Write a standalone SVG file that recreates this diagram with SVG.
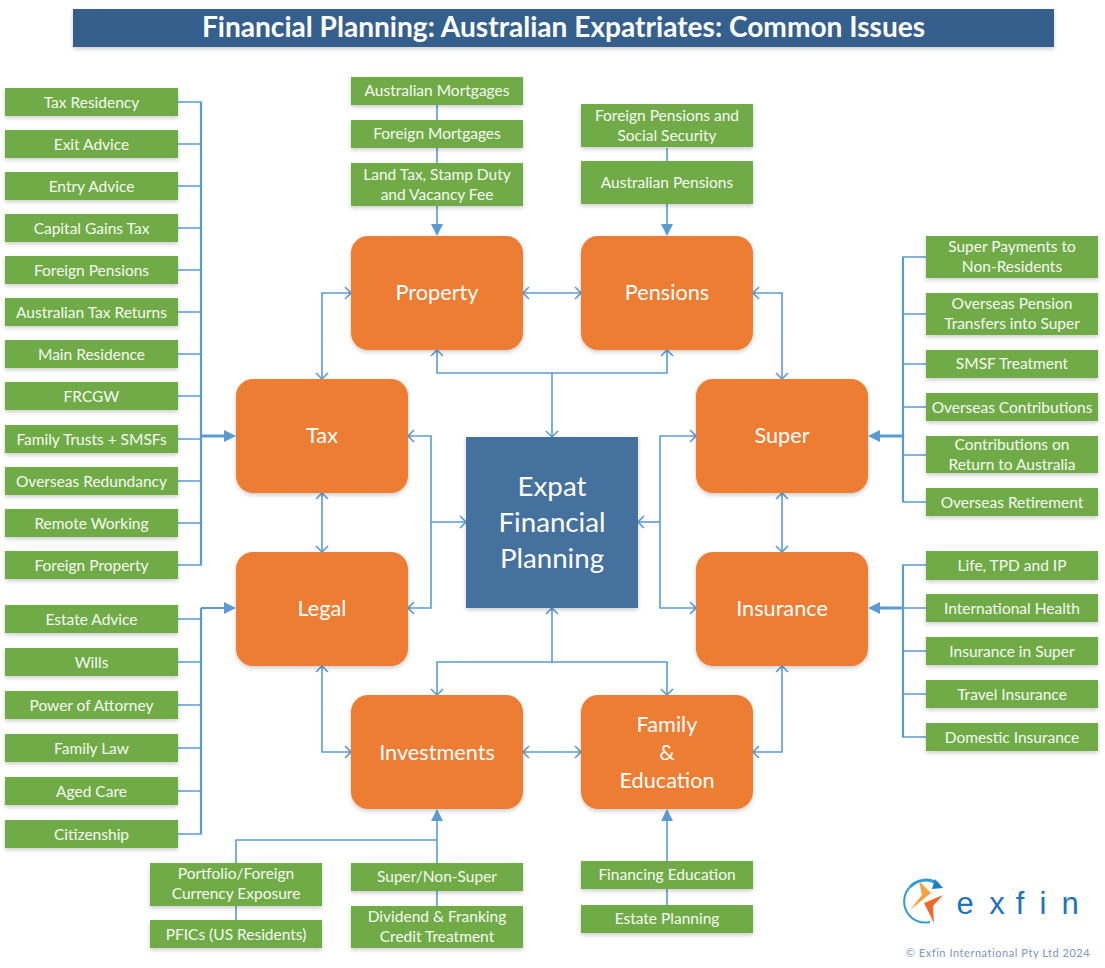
<svg xmlns="http://www.w3.org/2000/svg" width="1105" height="968" viewBox="0 0 1105 968">
<style>
text{font-family:"Lato","Carlito","Liberation Sans",sans-serif;fill:#fff;text-anchor:middle}
.g rect{fill:#6fab46;filter:url(#s)}
.g text{font-size:15.500px;fill:#f6fbf2}
.o rect{fill:#ed7d31;filter:url(#s)}
.o text{font-size:21.700px}
.n text{font-size:27.700px}
.c{fill:none;stroke:#5b9bd5;stroke-width:1.600}
.t{fill:none;stroke:#5b9bd5;stroke-width:2.200}
.h{fill:none;stroke:#5b9bd5;stroke-width:3}
.b{fill:none;stroke:#5b9bd5;stroke-width:1.600;marker-start:url(#o);marker-end:url(#o)}
.e{marker-start:none}
.a{fill:#5b9bd5}
</style>
<defs>
<filter id="s" x="-10%" y="-20%" width="120%" height="150%"><feDropShadow dx="0" dy="2" stdDeviation="2" flood-color="#000" flood-opacity="0.2"/></filter>
<marker id="o" viewBox="0 0 14 14" refX="13" refY="7" markerWidth="14" markerHeight="14" markerUnits="userSpaceOnUse" orient="auto-start-reverse"><path d="M7 1L13 7L7 13" fill="none" stroke="#5b9bd5" stroke-width="1.600"/></marker>
</defs>
<rect width="1105" height="968" fill="#fff"/>
<g id="title"><rect x="73" y="9" width="981" height="38" fill="#35608e" filter="url(#s)"/><text x="563.5" y="37" font-size="28.100" font-weight="700">Financial Planning: Australian Expatriates: Common Issues</text></g>
<g id="connectors">
<path class="c" d="M178 102H201V565H178M178 144H201M178 186H201M178 228H201M178 270H201M178 312H201M178 354H201M178 396H201M178 439H201M178 481H201M178 523H201"/>
<path class="c" d="M178 619H201M201 608V834H178M178 662H201M178 705H201M178 748H201M178 791H201"/>
<path class="t" d="M201 102V565M201 608V834M201 608H224"/>
<path class="h" d="M201 436H224"/>
<path class="a" d="M236 436L224 430V442ZM236 608L224 602V614Z"/>
<path class="c" d="M926 257H903V502H926M926 314H903M926 364H903M926 407H903M926 455H903"/>
<path class="c" d="M926 565H903V737H926M926 608H903M926 651H903M926 694H903"/>
<path class="t" d="M903 257V502M903 565V737"/>
<path class="h" d="M903 436H880M903 608H880"/>
<path class="a" d="M868 436L880 430V442ZM868 608L880 602V614Z"/>
<path class="c" d="M437 105V225M667 148V225"/>
<path class="a" d="M437 236L431 224H443ZM667 236L661 224H673Z"/>
<path class="c" d="M236 863V840H437M236 906V920M437 891V906"/>
<path class="c" d="M437 863V820M667 861V820M667 889V905"/>
<path class="a" d="M437 809L431 821H443ZM667 809L661 821H673Z"/>
<path class="b" d="M523 293H581"/>
<path class="b" d="M351 293H322V379"/>
<path class="b" d="M753 293H782V379"/>
<path class="b" d="M322 493V552"/>
<path class="b" d="M782 493V552"/>
<path class="b" d="M322 666V752H351"/>
<path class="b" d="M782 666V752H753"/>
<path class="b" d="M523 752H581"/>
<path class="b" d="M437 350V373H667V350"/>
<path class="b e" d="M552 373V437"/>
<path class="b" d="M437 695V662H667V695"/>
<path class="b e" d="M552 662V608"/>
<path class="b" d="M408 436H431V608H408"/>
<path class="b e" d="M431 522H466"/>
<path class="b" d="M696 436H660V608H696"/>
<path class="b e" d="M660 522H638"/>
</g>
<g id="center" class="o n"><rect x="466" y="437" width="172" height="171" style="fill:#44719f"/><text x="552" y="496">Expat</text><text x="552" y="532">Financial</text><text x="552" y="568">Planning</text></g>
<g id="property" class="o"><rect x="351" y="236" width="172" height="114" rx="17"/><text x="437" y="300">Property</text></g>
<g id="pensions" class="o"><rect x="581" y="236" width="172" height="114" rx="17"/><text x="667" y="300">Pensions</text></g>
<g id="tax" class="o"><rect x="236" y="379" width="172" height="114" rx="17"/><text x="322" y="443">Tax</text></g>
<g id="super" class="o"><rect x="696" y="379" width="172" height="114" rx="17"/><text x="782" y="443">Super</text></g>
<g id="legal" class="o"><rect x="236" y="552" width="172" height="114" rx="17"/><text x="322" y="616">Legal</text></g>
<g id="insurance" class="o"><rect x="696" y="552" width="172" height="114" rx="17"/><text x="782" y="616">Insurance</text></g>
<g id="investments" class="o"><rect x="351" y="695" width="172" height="114" rx="17"/><text x="437" y="760">Investments</text></g>
<g id="family" class="o"><rect x="581" y="695" width="172" height="114" rx="17"/><text x="667" y="732">Family</text><text x="667" y="760">&amp;</text><text x="667" y="788">Education</text></g>
<g id="tax-items" class="g">
<g id="l1"><rect x="5" y="88" width="173" height="28"/><text x="91.500" y="108">Tax Residency</text></g>
<g id="l2"><rect x="5" y="130" width="173" height="28"/><text x="91.500" y="150">Exit Advice</text></g>
<g id="l3"><rect x="5" y="172" width="173" height="28"/><text x="91.500" y="192">Entry Advice</text></g>
<g id="l4"><rect x="5" y="214" width="173" height="28"/><text x="91.500" y="234">Capital Gains Tax</text></g>
<g id="l5"><rect x="5" y="256" width="173" height="28"/><text x="91.500" y="276">Foreign Pensions</text></g>
<g id="l6"><rect x="5" y="298" width="173" height="28"/><text x="91.500" y="318">Australian Tax Returns</text></g>
<g id="l7"><rect x="5" y="340" width="173" height="28"/><text x="91.500" y="360">Main Residence</text></g>
<g id="l8"><rect x="5" y="382" width="173" height="28"/><text x="91.500" y="402">FRCGW</text></g>
<g id="l9"><rect x="5" y="425" width="173" height="28"/><text x="91.500" y="445">Family Trusts + SMSFs</text></g>
<g id="l10"><rect x="5" y="467" width="173" height="28"/><text x="91.500" y="487">Overseas Redundancy</text></g>
<g id="l11"><rect x="5" y="509" width="173" height="28"/><text x="91.500" y="529">Remote Working</text></g>
<g id="l12"><rect x="5" y="551" width="173" height="28"/><text x="91.500" y="571">Foreign Property</text></g>
</g>
<g id="legal-items" class="g">
<g id="m1"><rect x="5" y="605" width="173" height="28"/><text x="91.500" y="625">Estate Advice</text></g>
<g id="m2"><rect x="5" y="648" width="173" height="28"/><text x="91.500" y="668">Wills</text></g>
<g id="m3"><rect x="5" y="691" width="173" height="28"/><text x="91.500" y="711">Power of Attorney</text></g>
<g id="m4"><rect x="5" y="734" width="173" height="28"/><text x="91.500" y="754">Family Law</text></g>
<g id="m5"><rect x="5" y="777" width="173" height="28"/><text x="91.500" y="797">Aged Care</text></g>
<g id="m6"><rect x="5" y="820" width="173" height="28"/><text x="91.500" y="840">Citizenship</text></g>
</g>
<g id="top-items" class="g">
<g id="p1"><rect x="351" y="77" width="172" height="28"/><text x="437" y="96">Australian Mortgages</text></g>
<g id="p2"><rect x="351" y="120" width="172" height="28"/><text x="437" y="139">Foreign Mortgages</text></g>
<g id="p3"><rect x="351" y="163" width="172" height="43"/><text x="437" y="180">Land Tax, Stamp Duty</text><text x="437" y="200">and Vacancy Fee</text></g>
<g id="q1"><rect x="581" y="104" width="172" height="43"/><text x="667" y="121">Foreign Pensions and</text><text x="667" y="141">Social Security</text></g>
<g id="q2"><rect x="581" y="161" width="172" height="43"/><text x="667" y="188">Australian Pensions</text></g>
</g>
<g id="super-items" class="g">
<g id="r1"><rect x="926" y="236" width="172" height="42"/><text x="1012" y="252">Super Payments to</text><text x="1012" y="272">Non-Residents</text></g>
<g id="r2"><rect x="926" y="293" width="172" height="42"/><text x="1012" y="309">Overseas Pension</text><text x="1012" y="329">Transfers into Super</text></g>
<g id="r3"><rect x="926" y="350" width="172" height="28"/><text x="1012" y="369">SMSF Treatment</text></g>
<g id="r4"><rect x="926" y="393" width="172" height="28"/><text x="1012" y="413">Overseas Contributions</text></g>
<g id="r5"><rect x="926" y="436" width="172" height="37"/><text x="1012" y="450">Contributions on</text><text x="1012" y="470">Return to Australia</text></g>
<g id="r6"><rect x="926" y="488" width="172" height="28"/><text x="1012" y="508">Overseas Retirement</text></g>
</g>
<g id="insurance-items" class="g">
<g id="i1"><rect x="926" y="551" width="172" height="29"/><text x="1012" y="571">Life, TPD and IP</text></g>
<g id="i2"><rect x="926" y="594" width="172" height="28"/><text x="1012" y="614">International Health</text></g>
<g id="i3"><rect x="926" y="637" width="172" height="28"/><text x="1012" y="657">Insurance in Super</text></g>
<g id="i4"><rect x="926" y="680" width="172" height="28"/><text x="1012" y="700">Travel Insurance</text></g>
<g id="i5"><rect x="926" y="723" width="172" height="28"/><text x="1012" y="743">Domestic Insurance</text></g>
</g>
<g id="bottom-items" class="g">
<g id="b1"><rect x="150" y="863" width="172" height="43"/><text x="236" y="879">Portfolio/Foreign</text><text x="236" y="899">Currency Exposure</text></g>
<g id="b2"><rect x="150" y="920" width="172" height="28"/><text x="236" y="940">PFICs (US Residents)</text></g>
<g id="b3"><rect x="351" y="863" width="172" height="28"/><text x="437" y="882">Super/Non-Super</text></g>
<g id="b4"><rect x="351" y="906" width="172" height="42"/><text x="437" y="922">Dividend &amp; Franking</text><text x="437" y="942">Credit Treatment</text></g>
<g id="b5"><rect x="581" y="861" width="172" height="28"/><text x="667" y="880">Financing Education</text></g>
<g id="b6"><rect x="581" y="905" width="172" height="28"/><text x="667" y="924">Estate Planning</text></g>
</g>
<g id="logo">
<path d="M939 885A21 21 0 0 0 910 887" fill="none" stroke="#2e9bd6" stroke-width="3"/>
<path d="M910 887A21 21 0 0 0 930 922" fill="none" stroke="#2e9bd6" stroke-width="2"/>
<path d="M935 879L943 888L932 889Z" fill="#1f7fc4"/>
<path d="M919 881L931 893L910 910L922 895Z" fill="#f5a13f"/>
<path d="M943 895L924 903L934 923L933 906Z" fill="#ee6a2c"/>
<text x="965 997 1020 1043 1070" y="914" style="font-size:31px;fill:#1c75bc;font-family:'Liberation Sans',sans-serif">exfin</text>
<text x="998" y="957" style="font-size:11px;fill:#7b96c4;letter-spacing:.55px">© Exfin International Pty Ltd 2024</text>
</g>
</svg>
